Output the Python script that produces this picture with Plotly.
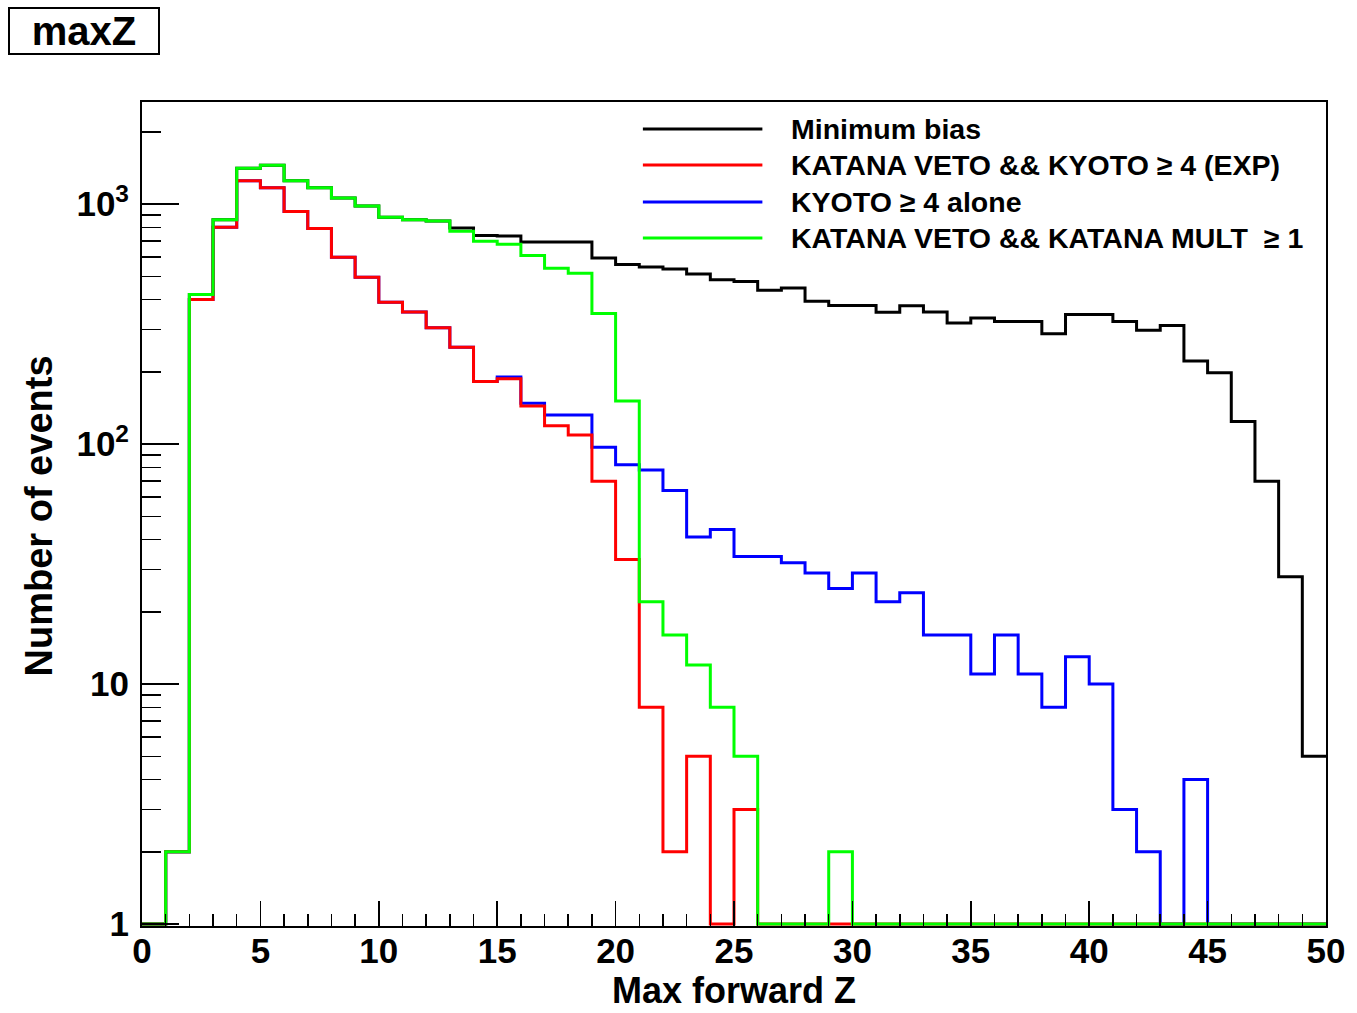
import numpy as np
import plotly.graph_objects as go

# ---- data (bin contents, bins of width 1 from 0 to 50) ----
bin_edges = list(range(0, 51))

min_bias = [0, 2, 420, 860, 1410, 1450, 1250, 1170, 1060, 980,
            880, 860, 850, 794, 740, 735, 695, 695, 695, 596,
            559, 546, 536, 511, 484, 475, 437, 447, 393, 378,
            378, 354, 377, 355, 319, 335, 324, 324, 288, 346,
            346, 324, 298, 312, 222, 198, 124, 70, 28, 5]

veto_kyoto = [0, 2, 400, 800, 1250, 1170, 930, 790, 600, 495,
              390, 355, 305, 253, 182, 187, 144, 119, 109, 70,
              33, 8, 2, 5, 0, 3, 0, 0, 0, 0,
              0, 0, 0, 0, 0, 0, 0, 0, 0, 0,
              0, 0, 0, 0, 0, 0, 0, 0, 0, 0]

kyoto_alone = [0, 2, 400, 800, 1250, 1170, 930, 790, 600, 495,
               390, 355, 305, 253, 182, 190, 148, 132, 132, 97,
               82, 78, 64, 41, 44, 34, 34, 32, 29, 25,
               29, 22, 24, 16, 16, 11, 16, 11, 8, 13,
               10, 3, 2, 0, 4, 0, 0, 0, 0, 0]

veto_katana = [0, 2, 420, 860, 1410, 1450, 1250, 1170, 1060, 980,
               880, 860, 850, 770, 700, 680, 610, 540, 515, 350,
               151, 22, 16, 12, 8, 5, 0, 0, 0, 2,
               0, 0, 0, 0, 0, 0, 0, 0, 0, 0,
               0, 0, 0, 0, 0, 0, 0, 0, 0, 0]

series_names = ["Minimum bias",
                "KATANA VETO && KYOTO \u2265 4 (EXP)",
                "KYOTO \u2265 4 alone",
                "KATANA VETO && KATANA MULT  \u2265 1"]
series_colors = ["#000000", "#ff0000", "#0000ff", "#00ff00"]
series_values = [min_bias, veto_kyoto, kyoto_alone, veto_katana]

y_tick_vals = [1, 10, 100, 1000]
y_tick_text = ["1", "10", "10<sup>2</sup>", "10<sup>3</sup>"]
x_title = "Max forward Z"
y_title = "Number of events"
hist_title = "maxZ"

# ---- figure geometry ----
W, H = 1357, 1013
L, R, T, B = 142, 1331, 102, 926
FONT = "Liberation Sans, Arial, Helvetica, sans-serif"


def px_x(px):
    return (px - L) / (R - L)


def px_y(py):
    return (B - py) / (B - T)


fig = go.Figure()

# drawing order: black, blue, red, green (green on top)
for idx in [0, 2, 1, 3]:
    vals = np.maximum(np.array(series_values[idx], dtype=float), 1.0)
    yy = list(vals) + [vals[-1]]
    fig.add_trace(go.Scatter(
        x=bin_edges, y=yy, mode="lines", line_shape="hv",
        line=dict(color=series_colors[idx], width=3),
        name=series_names[idx], showlegend=False, hoverinfo="skip"))

decades = 240.0
ymin = -2.0 / decades
ymax = ymin + (B - T) / decades

minor_y = [m * 10 ** d for d in range(0, 4) for m in range(2, 10) if m * 10 ** d < 10 ** ymax]

fig.update_layout(
    width=W, height=H,
    margin=dict(l=L, r=W - R, t=T, b=H - B),
    paper_bgcolor="white", plot_bgcolor="white",
    font=dict(family=FONT, color="black"),
    showlegend=False,
    xaxis=dict(range=[0, 50], tickmode="array", tickvals=list(range(0, 51, 5)),
               ticks="inside", ticklen=25, tickwidth=1.5, tickcolor="black",
               minor=dict(tickmode="linear", tick0=0, dtick=1, ticks="inside",
                          ticklen=12, tickwidth=1.5, tickcolor="black"),
               showgrid=False, zeroline=False,
               showline=True, linewidth=2, linecolor="black", mirror=True,
               tickfont=dict(size=35, family=FONT, weight="bold"),
               ticklabelstandoff=-7),
    yaxis=dict(type="log", range=[ymin, ymax], tickmode="array",
               tickvals=y_tick_vals, ticktext=y_tick_text,
               ticks="inside", ticklen=37, tickwidth=1.5, tickcolor="black",
               minor=dict(tickmode="array", tickvals=minor_y, ticks="inside",
                          ticklen=19, tickwidth=1.5, tickcolor="black"),
               showgrid=False, zeroline=False,
               showline=True, linewidth=2, linecolor="black", mirror=True,
               tickfont=dict(size=35, family=FONT, weight="bold"),
               ticklabelstandoff=4),
)

annotations = []
shapes = []

# axis titles
annotations.append(dict(text=x_title, xref="paper", yref="paper",
                        x=0.5, y=px_y(991), xanchor="center", yanchor="middle",
                        showarrow=False,
                        font=dict(size=36, family=FONT, weight="bold")))
annotations.append(dict(text=y_title, xref="paper", yref="paper",
                        x=px_x(39), y=px_y(516), xanchor="center", yanchor="middle",
                        textangle=-90, showarrow=False,
                        font=dict(size=38, family=FONT, weight="bold")))

# histogram title box
annotations.append(dict(text=hist_title, xref="paper", yref="paper",
                        x=px_x(84), y=px_y(31), xanchor="center", yanchor="middle",
                        showarrow=False, width=148, height=44,
                        bordercolor="black", borderwidth=2, borderpad=0,
                        bgcolor="white",
                        font=dict(size=40, family=FONT, weight="bold")))

# legend (ROOT style, no border)
leg_y = [129, 165, 202, 238]
for i in range(4):
    shapes.append(dict(type="line", xref="paper", yref="paper",
                       x0=px_x(645), x1=px_x(765), y0=px_y(leg_y[i]), y1=px_y(leg_y[i]),
                       line=dict(color=series_colors[i], width=3)))
    annotations.append(dict(text=series_names[i], xref="paper", yref="paper",
                            x=px_x(792), y=px_y(leg_y[i]), xanchor="left", yanchor="middle",
                            showarrow=False,
                            font=dict(size=28.5, family=FONT, weight="bold")))

fig.update_layout(annotations=annotations, shapes=shapes)

fig.write_html("out.html",
               config={"displayModeBar": False, "staticPlot": True},
               post_script="document.body.style.margin='0';document.body.style.overflow='hidden';")
